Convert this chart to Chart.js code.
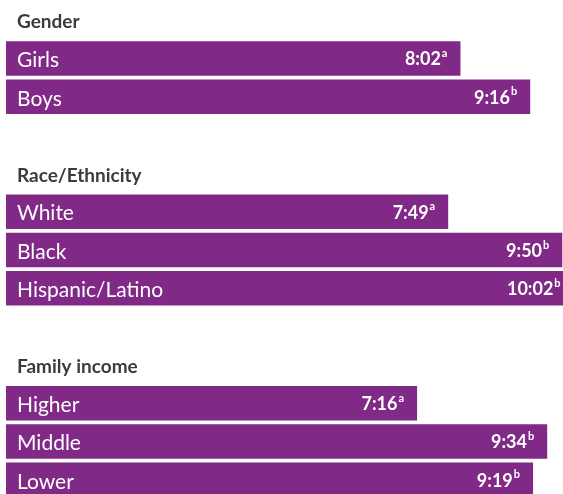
<!DOCTYPE html>
<html>
<head>
<meta charset="utf-8">
<script src="https://cdn.jsdelivr.net/npm/chart.js@4"></script>
<style>
  html, body { margin: 0; padding: 0; background: #fff; overflow: hidden; }
  #wrap { width: 563px; height: 494px; overflow: hidden; }
</style>
</head>
<body>
<div id="wrap"><canvas id="chart" width="600" height="500"></canvas></div>
<script>
// Chart data
const groups = ['Gender', 'Race/Ethnicity', 'Family income'];
const categories = [
  ['Girls', 'Boys'],
  ['White', 'Black', 'Hispanic/Latino'],
  ['Higher', 'Middle', 'Lower']
];
const times = [
  ['8:02', '9:16'],
  ['7:49', '9:50', '10:02'],
  ['7:16', '9:34', '9:19']
];
const notes = [
  ['a', 'b'],
  ['a', 'b', 'b'],
  ['a', 'b', 'b']
];

const PURPLE = '#802987';
const HEAD = '#3b3b3b';

function toSeconds(t) {
  const parts = t.split(':');
  return parseInt(parts[0], 10) * 60 + parseInt(parts[1], 10);
}

// Build the rows: header, bars, spacer between groups
const rows = [];
groups.forEach((g, gi) => {
  if (gi > 0) rows.push({ type: 'gap', label: '' });
  rows.push({ type: 'head', label: g });
  categories[gi].forEach((c, ci) => {
    rows.push({ type: 'bar', label: c, time: times[gi][ci], note: notes[gi][ci] });
  });
});

const labelPlugin = {
  id: 'labels',
  afterDatasetsDraw(chart) {
    const ctx = chart.ctx;
    const meta = chart.getDatasetMeta(0);
    const yScale = chart.scales.y;
    ctx.save();
    ctx.textBaseline = 'middle';
    rows.forEach((r, i) => {
      if (r.type === 'head') {
        const y = yScale.getPixelForValue(i);
        ctx.font = 'bold 19px Lato';
        ctx.fillStyle = HEAD;
        ctx.textAlign = 'left';
        ctx.fillText(r.label, 17, y + 2);
      } else if (r.type === 'bar') {
        const bar = meta.data[i];
        ctx.fillStyle = '#fff';
        ctx.textAlign = 'left';
        ctx.font = '21px Lato';
        ctx.fillText(r.label, bar.base + 11, bar.y + 2);
        // value with superscript
        ctx.font = 'bold 11px Lato';
        const supW = ctx.measureText(r.note).width;
        const right = bar.x - 13;
        ctx.textAlign = 'right';
        ctx.fillText(r.note, right, bar.y - 5);
        ctx.font = 'bold 18px Lato';
        ctx.fillText(r.time, right - supW - 1, bar.y + 1);
      }
    });
    ctx.restore();
  }
};

new Chart(document.getElementById('chart'), {
  type: 'bar',
  data: {
    labels: rows.map(r => r.label),
    datasets: [{
      data: rows.map(r => r.type === 'bar' ? toSeconds(r.time) : null),
      backgroundColor: PURPLE,
      borderWidth: 0,
      barPercentage: 0.9,
      categoryPercentage: 1
    }]
  },
  options: {
    indexAxis: 'y',
    responsive: false,
    animation: false,
    layout: { padding: { left: 6, right: 0, top: 1, bottom: 1 } },
    scales: {
      x: { display: false, min: 0, max: 630 },
      y: { display: false }
    },
    plugins: {
      legend: { display: false },
      tooltip: { enabled: false }
    }
  },
  plugins: [labelPlugin]
});
</script>
</body>
</html>
